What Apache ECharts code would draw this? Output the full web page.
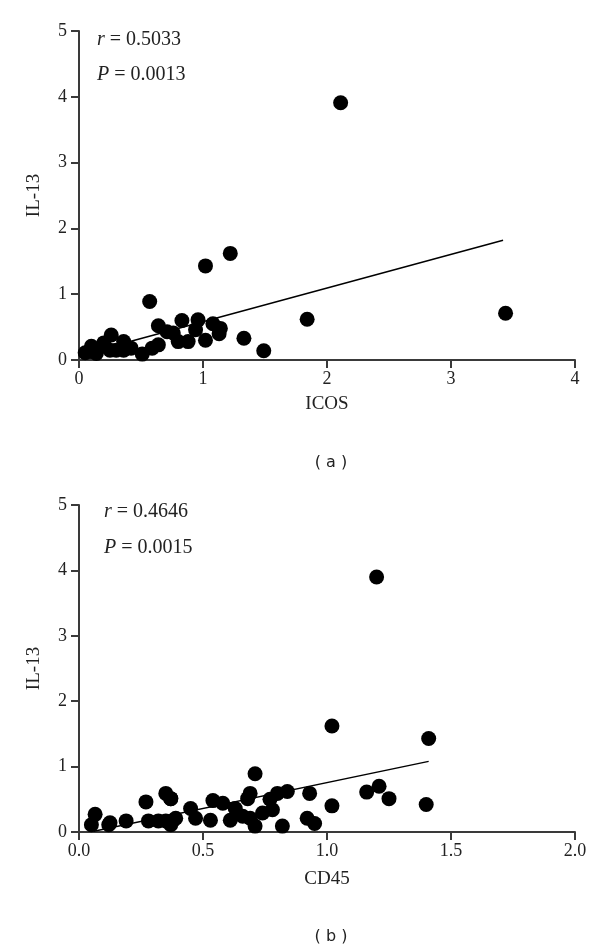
<!DOCTYPE html>
<html><head><meta charset="utf-8">
<script src="https://cdn.jsdelivr.net/npm/echarts@6/dist/echarts.min.js"></script>
<style>html,body{margin:0;padding:0;background:#fff}#c{width:600px;height:949px}</style>
</head><body><div id="c"></div>
<script>
// Panel (a): ICOS vs IL-13
const icosX = [2.11,1.22,1.02,0.57,1.84,3.44,1.33,1.49,0.83,0.96,1.08,1.14,1.13,1.02,0.94,0.88,0.80,0.76,0.64,0.26,0.10,0.05,0.20,0.36,0.42,0.51,0.59,0.64,0.71,0.14,0.25,0.30,0.09,0.36];
const icosY = [3.91,1.62,1.43,0.89,0.62,0.71,0.33,0.14,0.60,0.61,0.55,0.48,0.40,0.30,0.46,0.28,0.28,0.41,0.52,0.38,0.21,0.11,0.26,0.28,0.18,0.09,0.18,0.23,0.43,0.10,0.15,0.15,0.13,0.15];
const fitA = [[0.04,0.09],[3.42,1.82]];
// Panel (b): CD45 vs IL-13
const cd45X = [1.20,1.02,1.41,1.40,1.21,1.16,1.25,1.02,0.93,0.95,0.92,0.82,0.84,0.80,0.78,0.71,0.69,0.68,0.77,0.63,0.66,0.69,0.71,0.74,0.61,0.54,0.58,0.53,0.45,0.47,0.38,0.37,0.05,0.065,0.12,0.125,0.19,0.27,0.28,0.32,0.35,0.37,0.35,0.37,0.39];
const cd45Y = [3.90,1.62,1.43,0.42,0.70,0.61,0.51,0.40,0.59,0.13,0.21,0.09,0.62,0.59,0.34,0.89,0.59,0.51,0.50,0.36,0.24,0.21,0.09,0.29,0.18,0.48,0.44,0.18,0.36,0.21,0.18,0.51,0.11,0.27,0.11,0.14,0.17,0.46,0.17,0.17,0.59,0.51,0.17,0.11,0.21];
const fitB = [[0.06,0.01],[1.41,1.08]];
const labelsA = ['r = 0.5033','P = 0.0013'];
const labelsB = ['r = 0.4646','P = 0.0015'];

const serif = 'Liberation Serif';
const axisCommon = {
  axisLine:{show:true,onZero:false,lineStyle:{color:'#3a3a3a',width:2}},
  axisTick:{show:true,inside:false,length:8,lineStyle:{color:'#3a3a3a',width:2}},
  splitLine:{show:false},
  axisLabel:{fontFamily:serif,fontSize:18,color:'#222'},
  nameTextStyle:{fontFamily:serif,fontSize:19,color:'#222'}
};
function pts(xs,ys){return xs.map((x,i)=>[x,ys[i]]);}
const chart = echarts.init(document.getElementById('c'),null,{renderer:'canvas'});
function rp(t){
  const parts=t.split(' = ');
  return '{i|'+parts[0]+'}{n| = '+parts[1]+'}';
}
const rich={i:{fontFamily:serif,fontStyle:'italic',fontSize:20,fill:'#222'},n:{fontFamily:serif,fontSize:20,fill:'#222'}};
chart.setOption({
  animation:false,
  grid:[{left:79,top:31,width:496,height:329},{left:79,top:505,width:496,height:327}],
  xAxis:[
    Object.assign({},axisCommon,{gridIndex:0,type:'value',min:0,max:4,interval:1,name:'ICOS',nameLocation:'middle',nameGap:35,
      axisLabel:Object.assign({},axisCommon.axisLabel,{margin:10})}),
    Object.assign({},axisCommon,{gridIndex:1,type:'value',min:0,max:2,interval:0.5,name:'CD45',nameLocation:'middle',nameGap:38,
      axisLabel:Object.assign({},axisCommon.axisLabel,{margin:10,formatter:v=>v.toFixed(1)})})
  ],
  yAxis:[
    Object.assign({},axisCommon,{gridIndex:0,type:'value',min:0,max:5,interval:1,name:'IL-13',nameLocation:'middle',nameGap:35,
      axisLabel:Object.assign({},axisCommon.axisLabel,{margin:12})}),
    Object.assign({},axisCommon,{gridIndex:1,type:'value',min:0,max:5,interval:1,name:'IL-13',nameLocation:'middle',nameGap:35,
      axisLabel:Object.assign({},axisCommon.axisLabel,{margin:12})})
  ],
  series:[
    {type:'scatter',xAxisIndex:0,yAxisIndex:0,data:pts(icosX,icosY),symbolSize:15,itemStyle:{color:'#000',opacity:1},z:3},
    {type:'line',xAxisIndex:0,yAxisIndex:0,data:fitA,showSymbol:false,symbol:'none',lineStyle:{color:'#000',width:1.5},z:4},
    {type:'scatter',xAxisIndex:1,yAxisIndex:1,data:pts(cd45X,cd45Y),symbolSize:15,itemStyle:{color:'#000',opacity:1},z:3},
    {type:'line',xAxisIndex:1,yAxisIndex:1,data:fitB,showSymbol:false,symbol:'none',lineStyle:{color:'#000',width:1.5},z:4}
  ],
  graphic:[
    {type:'text',left:97,top:30,style:{text:rp(labelsA[0]),rich:rich}},
    {type:'text',left:97,top:65,style:{text:rp(labelsA[1]),rich:rich}},
    {type:'text',left:104,top:502,style:{text:rp(labelsB[0]),rich:rich}},
    {type:'text',left:104,top:538,style:{text:rp(labelsB[1]),rich:rich}},
    {type:'text',x:331,y:463,style:{text:'( a )',fontFamily:'DejaVu Sans',fontSize:16,fill:'#222',align:'center',verticalAlign:'middle'}},
    {type:'text',x:331,y:937,style:{text:'( b )',fontFamily:'DejaVu Sans',fontSize:16,fill:'#222',align:'center',verticalAlign:'middle'}}
  ]
});
</script></body></html>
